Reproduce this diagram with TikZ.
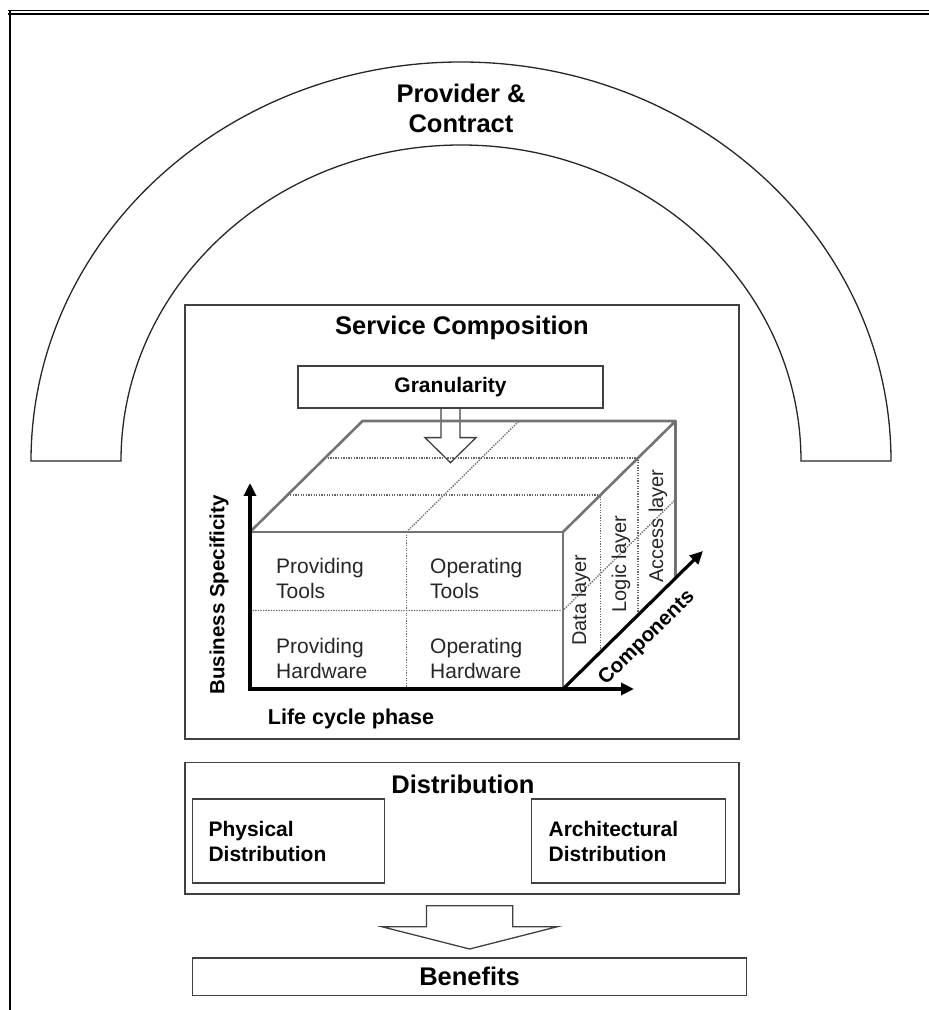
\documentclass[tikz,border=0pt]{standalone}
\usepackage{fontspec}
\setmainfont{Liberation Sans}
\usetikzlibrary{positioning,calc,arrows.meta}

\tikzset{
  panel/.style={draw=black!75, line width=1.3pt, inner sep=0pt},
  archline/.style={draw=black!85, line width=1.3pt},
  cubeedge/.style={draw=black!55, line width=2.6pt, line join=round},
  cubegrid/.style={draw=black!60, line width=1.3pt, dash pattern=on 1.3pt off 1.3pt},
  axis/.style={draw=black, line width=3.2pt, -{Triangle[length=13pt,width=12pt]}},
  heading/.style={font=\bfseries\fontsize{25.5}{30}\selectfont, align=center},
  axislabel/.style={font=\bfseries\fontsize{20.5}{24}\selectfont},
  celltext/.style={font=\fontsize{21}{25}\selectfont, align=left, text=black!85, inner sep=0pt},
  layertext/.style={font=\fontsize{20}{24}\selectfont, text=black!85, rotate=90, inner sep=0pt},
  subbox/.style={panel, minimum height=84pt, text width=160pt, align=left,
    font=\bfseries\fontsize{21}{25}\selectfont}
}

\begin{document}
\begin{tikzpicture}[x=1pt,y=1pt]
  \useasboundingbox (0,0) rectangle (929,1010);
  % page frame
  \draw[line width=1.2pt] (8,999.5) -- (929,999.5);
  \draw[line width=1.6pt] (8,995.8) -- (929,995.8);
  \draw[line width=2pt] (10,999.5) -- (10,0);

  % provider arch
  \draw[archline] (31,549) arc[start angle=180,end angle=0,x radius=430,y radius=399]
    -- (801,549) arc[start angle=0,end angle=180,x radius=340,y radius=316] -- cycle;
  \node[heading] (provider) at (461,902) {Provider \&\\Contract};

  % service composition
  \node[panel, minimum width=554pt, minimum height=434pt] (compbox) at (462,488) {};
  \node[heading] (comptitle) at (462,682) {Service Composition};
  \node[panel, minimum width=305pt, minimum height=42pt,
    font=\bfseries\fontsize{21}{24}\selectfont] (gran) at (450.5,623) {Granularity};
  \draw[panel] ($(gran.south)+(-9.5,0)$) -- ++(0,-29) -- ++(-16,0) -- ++(25.5,-25)
    -- ++(25.5,25) -- ++(-16,0) -- ++(0,29);

  % cube corners
  \coordinate (FBL) at (250,321);
  \coordinate (FBR) at (563,321);
  \coordinate (FTL) at (250,478);
  \coordinate (FTR) at (563,478);
  \coordinate (BTL) at (362.5,589);
  \coordinate (BTR) at (675.5,589);
  \coordinate (BBR) at (675.5,432);

  % dotted cells
  \draw[cubegrid] ($(FTL)!.5!(FTR)$) -- ($(FBL)!.5!(FBR)$);
  \draw[cubegrid] ($(FTL)!.5!(FBL)$) -- ($(FTR)!.5!(FBR)$) -- ($(BTR)!.5!(BBR)$);
  \draw[cubegrid] ($(FTL)!.5!(FTR)$) -- ($(BTL)!.5!(BTR)$);
  \foreach \k in {1/3,2/3}
    \draw[cubegrid] ($(FTL)!\k!(BTL)$) -- ($(FTR)!\k!(BTR)$) -- ($(FBR)!\k!(BBR)$);

  % cube edges
  \draw[cubeedge] (FBL) rectangle (FTR);
  \draw[cubeedge] (FTL) -- (BTL) -- (BTR) -- (FTR);
  \draw[cubeedge] (BTR) -- (BBR);

  % axes
  \coordinate (bsEnd) at (250,527);
  \coordinate (lcStart) at (248,321);
  \coordinate (lcEnd) at (634,321);
  \coordinate (compEnd) at (703,459);
  \draw[axis] ($(FBL)+(0,-1.5)$) -- (bsEnd);
  \draw[axis] (lcStart) -- (lcEnd);
  \draw[axis] (FBR) -- (compEnd);

  \node[axislabel, rotate=90] (bizspec) at (219,415) {Business Specificity};
  \node[axislabel, font=\bfseries\fontsize{21.5}{24}\selectfont] (lifecycle) at (351,291) {Life cycle phase};
  \node[axislabel, rotate=44.4] (components) at (647,372) {Components};

  % cell labels
  \node[celltext, anchor=west] (provtools) at (276,432) {Providing\\Tools};
  \node[celltext, anchor=west] (optools) at (430,432) {Operating\\Tools};
  \node[celltext, anchor=west] (provhw) at (276,352) {Providing\\Hardware};
  \node[celltext, anchor=west] (ophw) at (430,352) {Operating\\Hardware};
  \node[layertext] (datalayer) at (581,410) {Data layer};
  \node[layertext] (logiclayer) at (621,446) {Logic layer};
  \node[layertext] (accesslayer) at (658,484) {Access layer};

  % distribution
  \node[panel, minimum width=554pt, minimum height=131.3pt] (distbox) at (462,181.6) {};
  \node[heading] (disttitle) at (463,226) {Distribution};
  \node[subbox, minimum width=192pt] (physbox) at (288.5,169) {Physical\\Distribution};
  \node[subbox, minimum width=193.6pt] (archbox) at (628.6,169) {Architectural\\Distribution};

  % arrow to benefits
  \node[panel, minimum width=554.2pt, minimum height=37.5pt, heading] (benefits) at (469.6,33.2) {Benefits};
  \draw[panel] ($(distbox.south)+(-35.5,-11)$) -- ++(86.2,0) -- ++(0,-21) -- ++(44.7,0)
    -- ++(-87.8,-22.3) -- ++(-87.8,22.3) -- ++(44.7,0) -- cycle;
\end{tikzpicture}
\end{document}
